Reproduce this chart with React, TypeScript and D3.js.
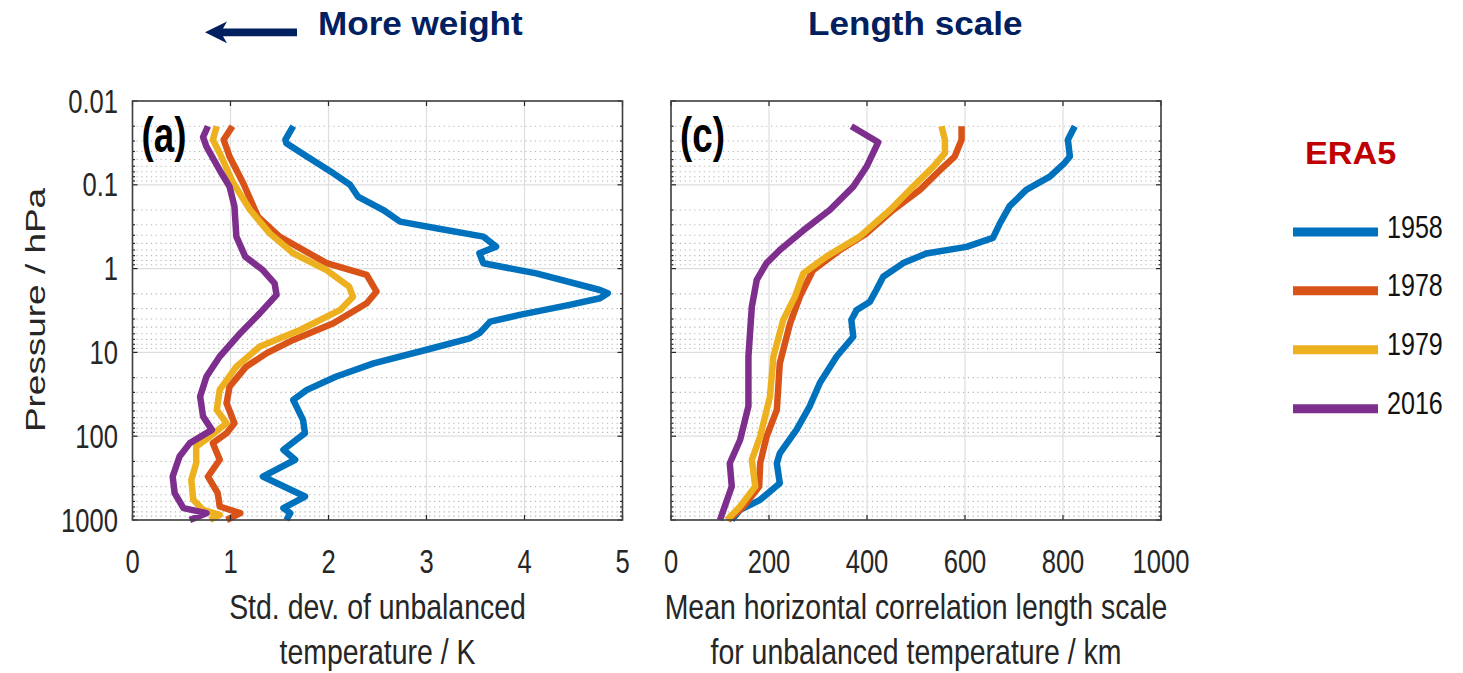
import * as d3 from 'd3';

const W = 1463;
const H = 673;
const Y_TOP = 101;
const Y_BOT = 520;

const years = ['1958', '1978', '1979', '2016'];
const colors = ['#0072BD', '#D95319', '#EDB120', '#7E2F8E'];

const pressureTicks = [0.01, 0.1, 1, 10, 100, 1000];
const pressureTickLabels = ['0.01', '0.1', '1', '10', '100', '1000'];
const stdTicks = [0, 1, 2, 3, 4, 5];
const lengthTicks = [0, 200, 400, 600, 800, 1000];

// [pressure in hPa, std. dev. in K]
const std1958 = [[0.02, 1.64], [0.029, 1.56], [0.032, 1.57], [0.046, 1.78], [0.073, 2.05], [0.1, 2.22], [0.138, 2.3], [0.2, 2.56], [0.275, 2.73], [0.33, 3.1], [0.415, 3.58], [0.547, 3.71], [0.656, 3.54], [0.863, 3.58], [1.14, 4.12], [1.8, 4.77], [1.97, 4.85], [2.26, 4.77], [2.71, 4.46], [3.57, 3.95], [4.29, 3.65], [5.9, 3.54], [6.8, 3.44], [9.3, 3.0], [13.5, 2.46], [19.4, 2.08], [28, 1.78], [36.9, 1.64], [63.8, 1.74], [92, 1.76], [145, 1.54], [191, 1.66], [303, 1.33], [525, 1.76], [722, 1.54], [828, 1.61], [1000, 1.57]];
const std1978 = [[0.02, 1.02], [0.029, 0.93], [0.046, 0.99], [0.096, 1.13], [0.24, 1.28], [0.415, 1.5], [0.86, 1.98], [1.19, 2.39], [1.88, 2.49], [2.59, 2.39], [4.49, 2.05], [7.1, 1.64], [10.2, 1.37], [14.8, 1.16], [25.6, 0.99], [40.4, 0.96], [70, 1.04], [92, 0.96], [121, 0.82], [191, 0.89], [303, 0.77], [478, 0.87], [690, 0.89], [828, 1.1], [1000, 0.96]];
const std1979 = [[0.02, 0.86], [0.029, 0.82], [0.042, 0.89], [0.096, 1.03], [0.2, 1.2], [0.38, 1.4], [0.656, 1.64], [1.04, 1.98], [1.64, 2.21], [2.16, 2.25], [3.11, 2.12], [5.4, 1.71], [8.5, 1.3], [14.8, 1.06], [28, 0.89], [48.5, 0.86], [70, 0.96], [101, 0.79], [133, 0.65], [210, 0.65], [332, 0.6], [574, 0.62], [757, 0.72], [867, 0.89], [1000, 0.79]];
const std2016 = [[0.02, 0.77], [0.027, 0.72], [0.035, 0.755], [0.067, 0.89], [0.105, 0.99], [0.18, 1.04], [0.415, 1.06], [0.72, 1.15], [1.04, 1.33], [1.5, 1.45], [2.06, 1.47], [3.4, 1.3], [5.9, 1.1], [11.2, 0.89], [19.4, 0.755], [33.6, 0.69], [58, 0.72], [84, 0.81], [121, 0.585], [175, 0.48], [303, 0.41], [478, 0.43], [722, 0.52], [828, 0.755], [1000, 0.585]];

// [pressure in hPa, length scale in km]
const len1958 = [[0.02, 824], [0.029, 810], [0.046, 814], [0.055, 803], [0.08, 773], [0.115, 725], [0.18, 691], [0.29, 671], [0.43, 657], [0.55, 603], [0.66, 521], [0.86, 474], [1.25, 433], [1.8, 419], [2.48, 406], [3.11, 379], [4.1, 368], [6.5, 372], [11.2, 338], [23, 304], [44, 283], [84, 256], [160, 222], [210, 216], [364, 222], [574, 182], [757, 141], [1000, 124]];
const len1978 = [[0.02, 593], [0.029, 593], [0.046, 579], [0.067, 549], [0.115, 508], [0.2, 453], [0.38, 399], [0.6, 345], [1.04, 290], [2.16, 263], [4.5, 243], [13.5, 222], [48.5, 216], [101, 195], [210, 182], [398, 180], [690, 148], [1000, 117]];
const len1979 = [[0.02, 552], [0.029, 559], [0.042, 559], [0.061, 535], [0.105, 494], [0.2, 447], [0.415, 385], [0.72, 317], [1.14, 270], [2.16, 253], [4.1, 229], [11.2, 209], [33.6, 202], [101, 182], [191, 165], [398, 172], [690, 141], [1000, 114]];
const len2016 = [[0.02, 368], [0.031, 423], [0.061, 399], [0.105, 372], [0.2, 324], [0.35, 270], [0.6, 222], [0.86, 195], [1.36, 175], [2.84, 165], [11.2, 158], [44, 158], [111, 141], [210, 120], [398, 124], [1000, 100]];

const FONT = '"Liberation Sans", Arial, Helvetica, sans-serif';

function Label({ x, y, size, sx = 0.79, anchor = 'middle', weight = 400, fill = '#262626', rot = 0, children }: any) {
  const t = rot
    ? `translate(${x},${y}) rotate(${rot}) scale(${sx},1)`
    : `translate(${x},${y}) scale(${sx},1)`;
  return (
    <text transform={t} fontSize={size} fontFamily={FONT} fontWeight={weight} fill={fill} textAnchor={anchor}>
      {children}
    </text>
  );
}

function Panel({ x0, x1, xTicks, series, tag, xLabel, showY }: any) {
  const x = d3.scaleLinear().domain([xTicks[0], xTicks[xTicks.length - 1]]).range([x0, x1]);
  const y = d3.scaleLog().domain([0.01, 1000]).range([Y_TOP, Y_BOT]);
  const isMajor = (t: number) => Math.abs(Math.log10(t) - Math.round(Math.log10(t))) < 1e-6;
  const minor = y.ticks().filter((t) => !isMajor(t));
  const line = d3.line<number[]>().x((d) => x(d[1])).y((d) => y(d[0]));
  const cx = (x0 + x1) / 2;

  return (
    <g>
      {/* minor grid (dotted) */}
      {minor.map((t, i) => (
        <line key={'mg' + i} x1={x0 + 4} x2={x1 - 4} y1={y(t)} y2={y(t)} stroke="#b4b4b4" strokeWidth={1.1} strokeDasharray="1.2 3.6" />
      ))}
      {/* major grid */}
      {pressureTicks.map((t, i) => (
        <line key={'gy' + i} x1={x0} x2={x1} y1={y(t)} y2={y(t)} stroke="#dedede" strokeWidth={1.2} />
      ))}
      {xTicks.map((t: number, i: number) => (
        <line key={'gx' + i} x1={x(t)} x2={x(t)} y1={Y_TOP} y2={Y_BOT} stroke="#dedede" strokeWidth={1.2} />
      ))}

      {/* curves */}
      {series.map((s: number[][], i: number) => (
        <path key={'s' + i} d={line(s) || ''} fill="none" stroke={colors[i]} strokeWidth={6.5} strokeLinejoin="round" strokeLinecap="butt" />
      ))}

      {/* ticks */}
      {minor.map((t, i) => (
        <g key={'mt' + i}>
          <line x1={x0} x2={x0 + 2.5} y1={y(t)} y2={y(t)} stroke="#262626" strokeWidth={1.2} />
          <line x1={x1} x2={x1 - 2.5} y1={y(t)} y2={y(t)} stroke="#262626" strokeWidth={1.2} />
        </g>
      ))}
      {pressureTicks.map((t, i) => (
        <g key={'yt' + i}>
          <line x1={x0} x2={x0 + 5} y1={y(t)} y2={y(t)} stroke="#262626" strokeWidth={1.2} />
          <line x1={x1} x2={x1 - 5} y1={y(t)} y2={y(t)} stroke="#262626" strokeWidth={1.2} />
        </g>
      ))}
      {xTicks.map((t: number, i: number) => (
        <g key={'xt' + i}>
          <line x1={x(t)} x2={x(t)} y1={Y_BOT} y2={Y_BOT - 5} stroke="#262626" strokeWidth={1.2} />
          <line x1={x(t)} x2={x(t)} y1={Y_TOP} y2={Y_TOP + 5} stroke="#262626" strokeWidth={1.2} />
        </g>
      ))}
      <rect x={x0} y={Y_TOP} width={x1 - x0} height={Y_BOT - Y_TOP} fill="none" stroke="#404040" strokeWidth={1.6} />

      {/* tick labels */}
      {xTicks.map((t: number, i: number) => (
        <Label key={'xl' + i} x={x(t)} y={573} size={32.4}>{String(t)}</Label>
      ))}
      {showY &&
        pressureTicks.map((t, i) => (
          <Label key={'yl' + i} x={118} y={y(t) + 11.5} size={32.4} anchor="end">{pressureTickLabels[i]}</Label>
        ))}

      {/* axis label */}
      <Label x={cx} y={619} size={36}>{xLabel[0]}</Label>
      <Label x={cx} y={664} size={36}>{xLabel[1]}</Label>

      {/* panel tag */}
      <Label x={x0 + 9} y={152} size={49} sx={0.75} anchor="start" weight={700} fill="#000">{tag}</Label>
    </g>
  );
}

export default function App() {
  const legendY = [232, 290.7, 349.7, 408.7];
  return (
    <svg width={W} height={H} style={{ position: 'absolute', left: 0, top: 0, background: '#fff' }}>
      {/* headings */}
      <path d="M205,32.3 L227,21.5 L223,28.5 L297,28.5 L297,36.2 L223,36.2 L227,43.2 Z" fill="#002060" />
      <Label x={318} y={35} size={32.5} sx={1.08} anchor="start" weight={700} fill="#002060">More weight</Label>
      <Label x={808} y={35} size={32.5} sx={1.08} anchor="start" weight={700} fill="#002060">Length scale</Label>

      {/* y axis label */}
      <Label x={45} y={310} size={28.4} sx={1.3} rot={-90}>Pressure / hPa</Label>

      <Panel
        x0={132.5}
        x1={622.5}
        xTicks={stdTicks}
        series={[std1958, std1978, std1979, std2016]}
        tag="(a)"
        xLabel={['Std. dev. of unbalanced', 'temperature / K']}
        showY
      />
      <Panel
        x0={671}
        x1={1161}
        xTicks={lengthTicks}
        series={[len1958, len1978, len1979, len2016]}
        tag="(c)"
        xLabel={['Mean horizontal correlation length scale', 'for unbalanced temperature / km']}
        showY={false}
      />

      {/* legend */}
      <Label x={1305} y={164} size={32} sx={1.07} anchor="start" weight={700} fill="#c00000">ERA5</Label>
      {years.map((yr, i) => (
        <g key={yr}>
          <line x1={1293} x2={1378} y1={legendY[i]} y2={legendY[i]} stroke={colors[i]} strokeWidth={9} />
          <Label x={1387} y={legendY[i] + 5.5} size={31} sx={0.81} anchor="start" fill="#111">{yr}</Label>
        </g>
      ))}
    </svg>
  );
}
